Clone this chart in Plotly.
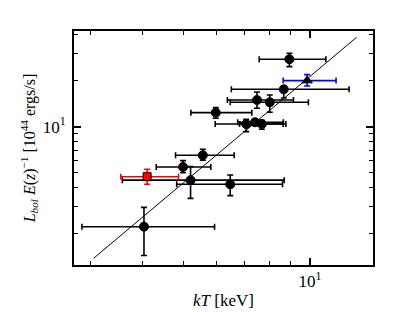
import plotly.graph_objects as go
import math

# ---- data ----
kT = [8.93, 8.66, 7.48, 8.02, 5.97, 7.05, 7.40, 7.68, 5.56, 4.99, 5.20, 6.46, 4.03]
kT_lo = [7.57, 6.50, 6.36, 6.46, 5.21, 5.95, 6.73, 6.80, 4.79, 4.31, 3.58, 4.82, 2.87]
kT_hi = [10.9, 12.38, 9.13, 9.91, 7.27, 8.76, 8.64, 8.63, 6.60, 5.81, 8.68, 8.60, 5.93]
L = [27.6, 17.55, 14.94, 14.44, 12.35, 10.40, 10.69, 10.41, 6.50, 5.45, 4.47, 4.20, 2.22]
L_lo = [24.7, 15.4, 13.19, 12.42, 11.35, 9.28, 10.2, 9.62, 6.03, 5.00, 3.40, 3.54, 1.44]
L_hi = [30.2, 18.45, 16.86, 16.1, 13.31, 11.17, 11.1, 11.0, 7.12, 6.00, 5.48, 4.83, 2.97]

blue_kT, blue_kT_lo, blue_kT_hi = [9.84], [8.63], [11.53]
blue_L, blue_L_lo, blue_L_hi = [20.0], [18.45], [21.9]

red_kT, red_kT_lo, red_kT_hi = [4.10], [3.55], [4.87]
red_L, red_L_lo, red_L_hi = [4.71], [4.20], [5.27]

fit_kT = [3.06, 12.9]
fit_L = [1.38, 38.4]

x_range = [2.748, 14.11]
y_range = [1.247, 42.2]
x_minor = [3, 4, 5, 6, 7, 8, 9]
y_minor = [2, 3, 4, 5, 6, 7, 8, 9, 20, 30, 40]
major_ticks = [10]
major_text = ["10<sup>1</sup>"]


def errs(v, lo, hi):
    return [h - a for a, h in zip(v, hi)], [a - l for a, l in zip(v, lo)]


FONT = "Liberation Serif"

fig = go.Figure()

fig.add_trace(go.Scatter(x=fit_kT, y=fit_L, mode="lines",
                         line=dict(color="black", width=1), showlegend=False))


def add_pts(x, xlo, xhi, y, ylo, yhi, ecol, symbol, fill, size):
    ex, exm = errs(x, xlo, xhi)
    ey, eym = errs(y, ylo, yhi)
    fig.add_trace(go.Scatter(
        x=x, y=y, mode="markers",
        marker=dict(symbol=symbol, color=fill, size=size,
                    line=dict(color="black", width=1)),
        error_x=dict(type="data", symmetric=False, array=ex, arrayminus=exm,
                     color=ecol, thickness=1.6, width=3),
        error_y=dict(type="data", symmetric=False, array=ey, arrayminus=eym,
                     color=ecol, thickness=1.6, width=3),
        showlegend=False))


add_pts(kT, kT_lo, kT_hi, L, L_lo, L_hi, "black", "circle", "black", 9)
add_pts(blue_kT, blue_kT_lo, blue_kT_hi, blue_L, blue_L_lo, blue_L_hi,
        "blue", "triangle-up", "black", 9)
add_pts(red_kT, red_kT_lo, red_kT_hi, red_L, red_L_lo, red_L_hi,
        "red", "square", "red", 8)

axis_common = dict(
    type="log", showgrid=False, zeroline=False,
    showline=True, linecolor="black", linewidth=2, mirror="ticks",
    ticks="inside", ticklen=7, tickwidth=1.5, tickcolor="black",
    tickmode="array", tickvals=major_ticks, ticktext=major_text,
    tickfont=dict(family=FONT, size=17, color="black"),
)

fig.update_xaxes(
    **axis_common,
    range=[math.log10(x_range[0]), math.log10(x_range[1])],
    minor=dict(tickmode="array", tickvals=x_minor, ticks="inside",
               ticklen=4, tickwidth=1.2, tickcolor="black", showgrid=False),
    title=dict(text="<i>kT</i> [keV]", font=dict(family=FONT, size=17, color="black"),
               standoff=4),
)
fig.update_yaxes(
    **axis_common,
    range=[math.log10(y_range[0]), math.log10(y_range[1])],
    ticklabelstandoff=3,
    minor=dict(tickmode="array", tickvals=y_minor, ticks="inside",
               ticklen=4, tickwidth=1.2, tickcolor="black", showgrid=False),
    title=dict(text="<i>L</i><sub><i>bol</i></sub> <i>E</i>(<i>z</i>)<sup>−1</sup> [10<sup>44</sup> ergs/s]",
               font=dict(family=FONT, size=16, color="black"), standoff=3),
)

fig.update_layout(
    width=407, height=304,
    margin=dict(l=66, r=42, t=23, b=47, autoexpand=False),
    paper_bgcolor="white", plot_bgcolor="white",
    font=dict(family=FONT, color="black"),
)

fig.write_html("out.html")
